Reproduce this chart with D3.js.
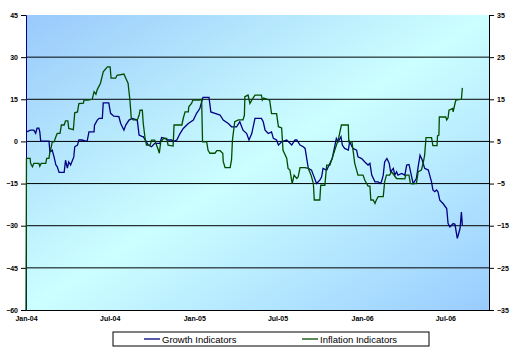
<!DOCTYPE html>
<html>
<head>
<meta charset="utf-8">
<script src="https://cdn.jsdelivr.net/npm/d3@7"></script>
<style>
  body { margin: 0; background: #fff; }
  svg { display: block; font-family: Arial, "Liberation Sans", sans-serif; }
</style>
</head>
<body>
<div id="chart"></div>
<script>
// Series: [days since 1 Jan 2004, value]
const startDate = new Date(2004, 0, 1);
const endDay = 1007;

// Growth Indicators (left axis)
const growth = [
  [1,3.4],[10,4.0],[17,4.0],[21,2.9],[24,4.7],[28,4.7],[30,3.4],[32,0.1],[50,0.1],[52,-3.7],
  [57,-3.1],[61,-5.5],[65,-8.4],[68,-9.0],[72,-11.0],[83,-11.0],[86,-6.7],[90,-9.5],[93,-7.3],[97,-8.4],
  [104,-5.5],[106,-1.9],[112,-1.3],[115,0.5],[122,0.5],[130,0.1],[133,0.1],[137,3.4],[148,3.4],[149,5.8],
  [155,7.6],[159,8.2],[166,8.2],[168,13.7],[180,13.7],[184,10.0],[191,9.0],[202,8.8],[206,6.4],[213,4.0],
  [217,5.8],[224,7.6],[231,8.2],[242,7.6],[246,2.3],[253,1.7],[255,1.7],[266,-1.3],[273,-1.9],[280,-0.7],
  [291,-0.7],[295,1.4],[302,1.1],[309,0.5],[317,0.5],[320,-0.1],[328,0.5],[335,2.8],[342,4.6],[353,6.4],
  [364,7.6],[371,10.0],[378,11.7],[382,14.1],[385,15.7],[398,15.7],[402,10.5],[411,10.0],[422,9.4],[429,7.6],
  [440,6.4],[447,5.2],[458,5.2],[465,7.0],[472,4.0],[480,2.8],[485,0.5],[491,2.8],[498,8.2],[512,8.2],
  [516,7.0],[520,4.0],[527,2.8],[534,3.4],[538,1.1],[545,0.5],[549,-1.3],[556,-0.1],[567,0.5],[578,-1.3],
  [585,0.5],[589,0.5],[596,-1.3],[603,-1.9],[607,-2.5],[610,-5.5],[614,-9.6],[621,-10.2],[625,-12.0],[632,-15.0],
  [639,-13.8],[643,-12.6],[646,-9.6],[654,-10.2],[661,-7.8],[666,-6.1],[672,-1.3],[675,1.1],[679,-0.1],[685,1.7],
  [688,-1.3],[693,-2.5],[701,-3.1],[704,-0.1],[711,-2.5],[719,-3.1],[722,-5.5],[730,-6.1],[737,-7.3],[744,-8.4],
  [748,-7.8],[752,-12.0],[759,-14.4],[766,-14.4],[770,-15.0],[773,-14.4],[777,-12.0],[780,-7.3],[785,-6.1],[790,-7.8],
  [793,-10.8],[799,-9.6],[802,-12.0],[806,-10.8],[809,-12.0],[817,-11.4],[824,-12.0],[828,-8.4],[833,-8.2],[838,-12.0],
  [842,-15.0],[849,-13.2],[853,-9.0],[857,-4.9],[862,-6.7],[867,-9.6],[875,-10.2],[878,-12.0],[882,-14.4],[885,-17.3],
  [889,-17.9],[893,-17.3],[896,-17.9],[900,-20.9],[907,-22.1],[915,-23.9],[918,-29.2],[922,-30.4],[929,-29.2],[933,-29.5],
  [938,-34.5],[940,-33.4],[944,-31.0],[947,-25.1],[949,-29.8]
];

// Inflation Indicators (right axis)
const inflation = [
  [0,-35],[1,1.0],[9,1.0],[10,-0.2],[14,-1.0],[17,-0.2],[28,-0.2],[30,-0.9],[33,-0.2],[43,-0.2],
  [45,1.0],[50,1.0],[52,2.5],[55,3.7],[57,4.9],[61,4.9],[65,6.1],[68,6.9],[74,6.9],[77,8.9],
  [83,8.9],[86,9.9],[91,9.9],[93,8.1],[103,7.8],[106,11.8],[112,12.0],[115,14.0],[125,14.1],[126,14.8],
  [135,14.8],[144,15.0],[148,16.8],[152,16.2],[155,17.3],[162,18.8],[168,21.5],[177,22.7],[183,22.7],[185,20.0],
  [195,20.0],[198,20.7],[213,21.0],[217,20.0],[222,18.8],[226,14.8],[229,10.5],[233,10.1],[242,10.1],[246,11.2],
  [248,12.4],[253,12.4],[255,9.3],[259,5.7],[262,4.1],[270,4.1],[273,5.3],[280,5.3],[288,2.9],[290,2.2],
  [293,4.9],[299,5.7],[306,5.7],[309,4.1],[320,3.9],[322,8.9],[339,8.9],[342,10.5],[346,12.0],[353,12.0],
  [354,13.2],[360,14.0],[363,14.8],[378,14.8],[382,15.0],[384,4.9],[393,4.9],[396,2.9],[400,2.2],[411,2.2],
  [415,2.8],[422,2.8],[428,2.2],[429,0.2],[433,-1.2],[444,-1.2],[447,0.6],[449,5.3],[454,9.7],[462,10.1],
  [472,10.1],[475,11.2],[476,15.6],[483,16.0],[487,14.0],[491,14.8],[498,16.0],[512,16.0],[514,14.8],[517,15.3],
  [530,14.8],[534,11.6],[545,11.6],[549,8.5],[556,8.2],[559,2.9],[567,1.0],[570,-1.4],[574,-1.8],[579,-5.0],
  [583,-3.0],[589,-3.8],[592,-3.4],[596,-1.2],[607,-1.2],[614,-1.4],[620,-3.0],[625,-5.0],[627,-8.9],[639,-8.9],
  [641,-5.4],[650,-5.4],[654,-0.6],[661,-0.6],[668,1.7],[675,4.1],[679,5.3],[686,8.9],[701,8.9],[702,4.9],
  [709,4.9],[715,-0.2],[722,-3.0],[733,-3.0],[737,-4.2],[744,-5.6],[748,-5.6],[750,-8.9],[755,-8.9],[759,-9.7],
  [762,-8.9],[766,-8.1],[777,-8.1],[780,-4.6],[784,-3.0],[791,-3.0],[795,-2.2],[806,-3.8],[824,-3.9],[826,-3.0],
  [833,-3.0],[836,-5.0],[849,-5.0],[853,-2.2],[860,-1.8],[864,0.0],[867,1.7],[870,5.9],[882,5.9],[885,4.0],
  [894,4.0],[895,6.3],[898,6.5],[899,10.8],[913,10.8],[915,10.1],[918,10.6],[920,12.4],[928,12.8],[929,12.0],
  [933,14.0],[935,14.8],[947,15.0],[949,17.7]
];

const leftTicks = [-60, -45, -30, -15, 0, 15, 30, 45];
const rightTicks = [-35, -25, -15, -5, 5, 15, 25, 35];
const seriesNames = ['Growth Indicators', 'Inflation Indicators'];

// ---- setup ----
const W = 516, H = 353;
const margin = { top: 15, right: 27, bottom: 43, left: 26 };
const width = W - margin.left - margin.right;
const height = H - margin.top - margin.bottom;

const svg = d3.select('#chart').append('svg')
  .attr('width', W).attr('height', H);

const defs = svg.append('defs');
const grad = defs.append('linearGradient')
  .attr('id', 'bg').attr('x1', 0).attr('y1', 0).attr('x2', 1).attr('y2', 1);
grad.append('stop').attr('offset', '0%').attr('stop-color', '#99c9fb');
grad.append('stop').attr('offset', '50%').attr('stop-color', '#ccffff');
grad.append('stop').attr('offset', '100%').attr('stop-color', '#99ccff');

const g = svg.append('g').attr('transform', `translate(${margin.left},${margin.top})`);

// ---- scales ----
const toDate = d => d3.timeDay.offset(startDate, d);
const x = d3.scaleTime()
  .domain([startDate, toDate(endDay)])
  .range([0, width]);
const yL = d3.scaleLinear().domain([-60, 45]).range([height, 0]);
const yR = d3.scaleLinear().domain([-35, 35]).range([height, 0]);

// plot area
g.append('rect')
  .attr('width', width).attr('height', height)
  .attr('fill', 'url(#bg)');

// gridlines
g.selectAll('.grid')
  .data(leftTicks.filter(t => t > -60 && t < 45))
  .enter().append('line')
  .attr('x1', 0).attr('x2', width)
  .attr('y1', d => yL(d)).attr('y2', d => yL(d))
  .attr('stroke', '#000').attr('stroke-width', 1);

// ---- axes ----
const fmtTime = d3.timeFormat('%b-%y');
const xAxis = g.append('g')
  .attr('transform', `translate(0,${height})`)
  .call(d3.axisBottom(x).ticks(d3.timeMonth.every(6)).tickFormat(fmtTime).tickSize(0).tickPadding(6));

const leftAxis = g.append('g')
  .call(d3.axisLeft(yL).tickValues(leftTicks).tickSize(5).tickPadding(3));

const rightAxis = g.append('g')
  .attr('transform', `translate(${width},0)`)
  .call(d3.axisRight(yR).tickValues(rightTicks).tickSize(5).tickPadding(3));

[xAxis, leftAxis, rightAxis].forEach(a => {
  a.selectAll('text')
    .attr('fill', '#000')
    .style('font-size', '7px')
    .style('font-weight', 'bold');
  a.selectAll('line').attr('stroke', '#000');
});
xAxis.select('.domain').attr('stroke', '#000');
leftAxis.select('.domain').attr('stroke', '#000080');
rightAxis.select('.domain').attr('stroke', '#000');

// ---- series ----
const lineL = d3.line().x(d => x(toDate(d[0]))).y(d => yL(d[1]));
const lineR = d3.line().x(d => x(toDate(d[0]))).y(d => yR(d[1]));

g.append('path')
  .datum(growth)
  .attr('d', lineL)
  .attr('fill', 'none')
  .attr('stroke', '#000080')
  .attr('stroke-width', 1.3);

g.append('path')
  .datum(inflation)
  .attr('d', lineR)
  .attr('fill', 'none')
  .attr('stroke', '#004d00')
  .attr('stroke-width', 1.3);

// ---- legend ----
const legend = svg.append('g').attr('transform', 'translate(113,332)');
legend.append('rect')
  .attr('width', 316).attr('height', 14)
  .attr('fill', '#fff').attr('stroke', '#000').attr('stroke-width', 1);

const legendItems = [
  { name: seriesNames[0], color: '#000080', x0: 31 },
  { name: seriesNames[1], color: '#004d00', x0: 189 }
];
legendItems.forEach(it => {
  legend.append('line')
    .attr('x1', it.x0).attr('x2', it.x0 + 16)
    .attr('y1', 7).attr('y2', 7)
    .attr('stroke', it.color).attr('stroke-width', 1.3);
  legend.append('text')
    .attr('x', it.x0 + 18).attr('y', 10.5)
    .style('font-size', '9.5px')
    .attr('fill', '#000')
    .text(it.name);
});
</script>
</body>
</html>
